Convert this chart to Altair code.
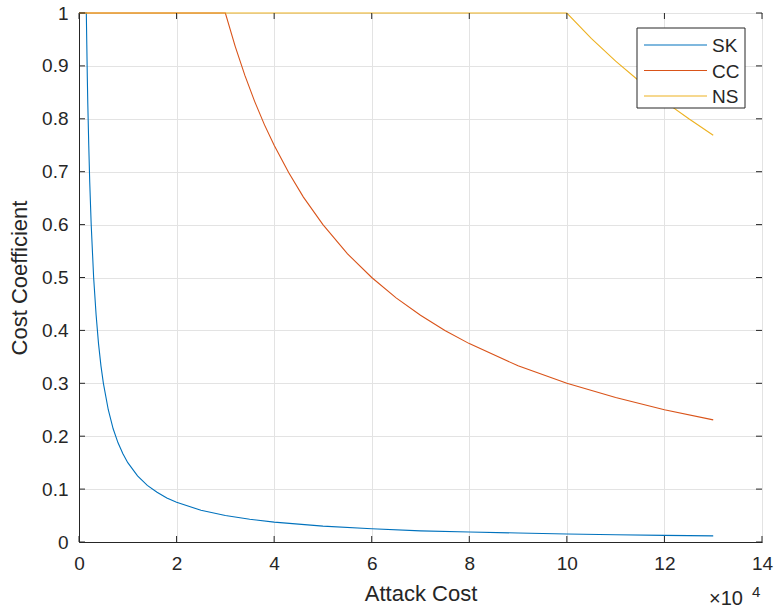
import altair as alt
import pandas as pd

# Series names and colours
series_names = ["SK", "CC", "NS"]
series_colors = ["#0072BD", "#D95319", "#EDB120"]

# Values (x in units of 10^4)
sk_x = [0, 0.15, 0.16, 0.17, 0.18, 0.2, 0.22, 0.25, 0.28, 0.3, 0.35, 0.4, 0.45, 0.5, 0.6, 0.7, 0.8, 0.9,
        1.0, 1.2, 1.4, 1.6, 1.8, 2.0, 2.5, 3, 3.5, 4, 5, 6, 7, 8, 9, 10, 11, 12, 13]
sk_y = [1, 1, 0.94, 0.88, 0.83, 0.75, 0.68, 0.6, 0.54, 0.5, 0.43, 0.375, 0.333, 0.3, 0.25, 0.214, 0.1875, 0.167,
        0.15, 0.125, 0.107, 0.094, 0.083, 0.075, 0.06, 0.05, 0.043, 0.0375, 0.03, 0.025, 0.021, 0.019, 0.017,
        0.015, 0.0136, 0.0125, 0.0115]

cc_x = [0, 3, 3.2, 3.4, 3.6, 3.8, 4, 4.3, 4.6, 5, 5.5, 6, 6.5, 7, 7.5, 8, 9, 10, 11, 12, 13]
cc_y = [1, 1, 0.9375, 0.882, 0.833, 0.789, 0.75, 0.698, 0.652, 0.6, 0.545, 0.5, 0.4615, 0.4286, 0.4, 0.375,
        0.333, 0.3, 0.273, 0.25, 0.2308]

ns_x = [0, 10, 10.5, 11, 11.5, 12, 12.5, 13]
ns_y = [1, 1, 0.952, 0.909, 0.870, 0.833, 0.8, 0.769]

x_ticks = [0, 2, 4, 6, 8, 10, 12, 14]
y_ticks = [0, 0.1, 0.2, 0.3, 0.4, 0.5, 0.6, 0.7, 0.8, 0.9, 1]

W, H = 683, 529
FONT = "Liberation Sans"
AX = "#262626"

xs = alt.Scale(domain=[0, 14], nice=False, zero=False)
ys = alt.Scale(domain=[0, 1], nice=False, zero=False)
cs = alt.Scale(domain=series_names, range=series_colors)

frames = []
for name, xv, yv in zip(series_names, [sk_x, cc_x, ns_x], [sk_y, cc_y, ns_y]):
    frames.append(pd.DataFrame({"x": xv, "y": yv, "series": name}))

# base axes layer (grid, labels, titles)
axis_df = pd.DataFrame({"x": [0, 14], "y": [0, 1]})
base = alt.Chart(axis_df).mark_point(opacity=0).encode(
    x=alt.X("x:Q", scale=xs, axis=alt.Axis(values=x_ticks, title="Attack Cost", ticks=False,
                                          labelPadding=12, titlePadding=10, grid=True,
                                          labelFlush=False)),
    y=alt.Y("y:Q", scale=ys, axis=alt.Axis(values=y_ticks, title="Cost Coefficient", ticks=False,
                                          labelPadding=11, titlePadding=10, grid=True,
                                          format="~g", labelFlush=False)),
)

layers = [base]
for df in frames:
    layers.append(
        alt.Chart(df).mark_line(strokeWidth=1.1, clip=False).encode(
            x=alt.X("x:Q", scale=xs),
            y=alt.Y("y:Q", scale=ys),
            color=alt.Color("series:N", scale=cs, legend=None),
        )
    )

# inward ticks
xt = pd.DataFrame({"t": x_ticks})
yt = pd.DataFrame({"t": y_ticks})
TL = 6
layers.append(alt.Chart(xt).mark_rule(color=AX, strokeWidth=1).encode(
    x=alt.X("t:Q", scale=xs), y=alt.value(H), y2=alt.value(H - TL)))
layers.append(alt.Chart(xt).mark_rule(color=AX, strokeWidth=1).encode(
    x=alt.X("t:Q", scale=xs), y=alt.value(0), y2=alt.value(TL)))
layers.append(alt.Chart(yt).mark_rule(color=AX, strokeWidth=1).encode(
    y=alt.Y("t:Q", scale=ys), x=alt.value(0), x2=alt.value(TL)))
layers.append(alt.Chart(yt).mark_rule(color=AX, strokeWidth=1).encode(
    y=alt.Y("t:Q", scale=ys), x=alt.value(W - TL), x2=alt.value(W)))

# legend box
one = pd.DataFrame({"a": [0]})
layers.append(alt.Chart(one).mark_rect(fill="white", stroke=AX, strokeWidth=1).encode(
    x=alt.value(558), x2=alt.value(666), y=alt.value(15), y2=alt.value(95)))
for i, (name, col) in enumerate(zip(series_names, series_colors)):
    yy = 32 + i * 25.5
    layers.append(alt.Chart(one).mark_rule(color=col, strokeWidth=1.1).encode(
        x=alt.value(565), x2=alt.value(628), y=alt.value(yy)))
    layers.append(alt.Chart(pd.DataFrame({"s": [name]})).mark_text(
        align="left", baseline="middle", font=FONT, fontSize=19, color=AX).encode(
        x=alt.value(633), y=alt.value(yy + 1), text="s:N"))

# exponent label
layers.append(alt.Chart(pd.DataFrame({"s": ["×10"]})).mark_text(
    align="right", baseline="alphabetic", font=FONT, fontSize=20, color=AX).encode(
    x=alt.value(664), y=alt.value(592), text="s:N"))
layers.append(alt.Chart(pd.DataFrame({"s": ["4"]})).mark_text(
    align="left", baseline="alphabetic", font=FONT, fontSize=15, color=AX).encode(
    x=alt.value(673), y=alt.value(584), text="s:N"))

chart = alt.layer(*layers).properties(
    width=W, height=H,
    background="white",
    autosize=alt.AutoSizeParams(type="none"),
    padding={"left": 79, "top": 13, "right": 13, "bottom": 67},
).configure_view(stroke=AX, strokeWidth=1).configure_axis(
    domainColor=AX, domainWidth=1, labelColor=AX, titleColor=AX,
    labelFont=FONT, titleFont=FONT, labelFontSize=19, titleFontSize=22,
    titleFontWeight="normal", gridColor="#e3e3e3", gridWidth=1,
)

chart.save("out.html", embed_options={"renderer": "svg", "actions": False})
